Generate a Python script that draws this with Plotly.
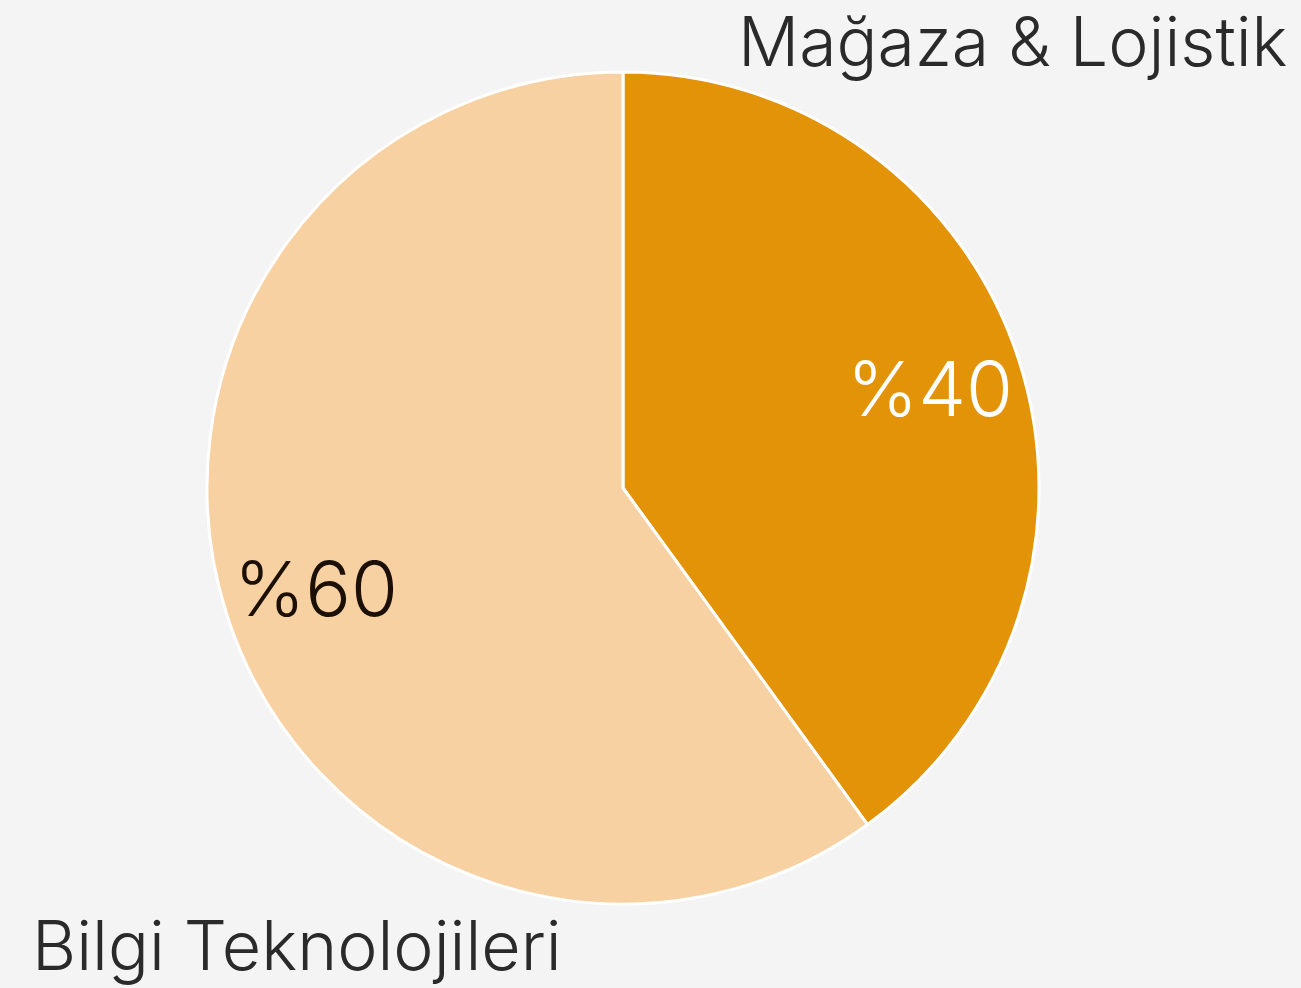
import math
import plotly.graph_objects as go

labels = ["Mağaza & Lojistik", "Bilgi Teknolojileri"]
values = [40, 60]
colors = ["#E39308", "#F8D1A2"]
text_colors = ["#FFFFFF", "#1B0F06"]

FONT = "Inter"
W, H = 1301, 988
CX, CY, R = 623, 488, 416  # pie centre / radius in pixels

fig = go.Figure()
fig.add_trace(
    go.Pie(
        labels=labels,
        values=values,
        sort=False,
        direction="clockwise",
        rotation=0,
        marker=dict(colors=colors, line=dict(color="#FFFFFF", width=3)),
        textinfo="none",
        domain=dict(x=[(CX - R) / W, (CX + R) / W], y=[1 - (CY + R) / H, 1 - (CY - R) / H]),
        showlegend=False,
        hoverinfo="label+percent",
    )
)

# percentage labels placed along each slice's mid angle
total = sum(values)
start = 0.0
for v, tc in zip(values, text_colors):
    mid = (start + v / 2) / total * 2 * math.pi
    start += v
    px = CX + 0.775 * R * math.sin(mid)
    py = CY - 0.775 * R * math.cos(mid)
    fig.add_annotation(
        x=px / W, y=1 - py / H, xref="paper", yref="paper",
        text=f"%{v}", showarrow=False, xanchor="center", yanchor="middle",
        font=dict(family=FONT, size=76, color=tc, weight=300),
    )

fig.add_annotation(
    x=1290 / W, y=1 - 41 / H, xref="paper", yref="paper",
    text=labels[0], showarrow=False, xanchor="right", yanchor="middle",
    font=dict(family=FONT, size=68, color="#2A2A2A", weight=300),
)
fig.add_annotation(
    x=30 / W, y=1 - 945 / H, xref="paper", yref="paper",
    text=labels[1], showarrow=False, xanchor="left", yanchor="middle",
    font=dict(family=FONT, size=68, color="#2A2A2A", weight=300),
)

fig.update_layout(
    width=W,
    height=H,
    margin=dict(l=0, r=0, t=0, b=0),
    paper_bgcolor="#F4F4F4",
    plot_bgcolor="#F4F4F4",
)

fig.write_html(
    "out.html",
    config={"displayModeBar": False},
    post_script="document.body.style.margin='0';document.body.style.background='#F4F4F4';",
)
